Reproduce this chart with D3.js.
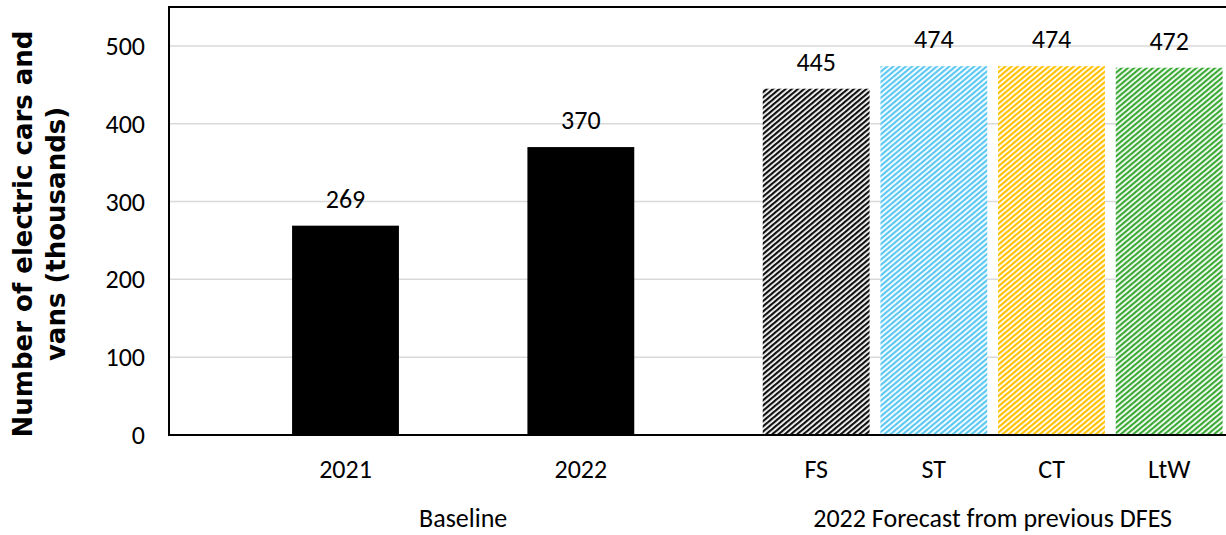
<!DOCTYPE html>
<html>
<head>
<meta charset="utf-8">
<script src="https://cdn.jsdelivr.net/npm/d3@7"></script>
<style>
  html, body { margin: 0; padding: 0; background: #fff; }
  svg { display: block; }
  text { font-family: Carlito, Lato, "Open Sans", sans-serif; fill: #000; }
</style>
</head>
<body>
<svg id="chart" width="1226" height="535"></svg>
<script>
// -------- DATA --------
// slots: blank spacer slots keep the Excel-style spacing between bars
const slots = ["_a", "2021", "_b", "2022", "_c", "FS", "ST", "CT", "LtW"];
const categories = ["2021", "2022", "FS", "ST", "CT", "LtW"];
const values = [269, 370, 445, 474, 474, 472];
const groups = [
  { label: "Baseline", members: ["2021", "2022"] },
  { label: "2022 Forecast from previous DFES", members: ["FS", "ST", "CT", "LtW"] }
];
const yTicks = [0, 100, 200, 300, 400, 500];
const yTitle = ["Number of electric cars and", "vans (thousands)"];

// -------- STYLE --------
const barStyle = {
  "2021": { solid: "#000000" },
  "2022": { solid: "#000000" },
  "FS":  { hatch: "#111111" },
  "ST":  { hatch: "#5cc8f2" },
  "CT":  { hatch: "#ffc000" },
  "LtW": { hatch: "#3aaa35" }
};
const fontSize = 26;

const svg = d3.select("#chart");
const margin = { left: 169, top: 7, right: -2 };
const W = 1226;
const plotBottom = 435;

const x = d3.scaleBand()
  .domain(slots)
  .range([margin.left, W - margin.right])
  .paddingInner(0.092)
  .paddingOuter(0.046);

const y = d3.scaleLinear()
  .domain([0, 550])
  .range([plotBottom, margin.top]);

// -------- PATTERNS --------
const defs = svg.append("defs");
categories.forEach(c => {
  const st = barStyle[c];
  if (!st.hatch) return;
  const p = defs.append("pattern")
    .attr("id", "hatch-" + c)
    .attr("patternUnits", "userSpaceOnUse")
    .attr("width", 4)
    .attr("height", 4)
    .attr("patternTransform", "rotate(50)");
  p.append("rect").attr("width", 4).attr("height", 4).attr("fill", "#fff");
  p.append("rect").attr("width", 2.2).attr("height", 4).attr("fill", st.hatch);
});

// -------- GRID --------
svg.append("g")
  .selectAll("line")
  .data(yTicks.filter(d => d > 0))
  .enter()
  .append("line")
  .attr("x1", margin.left)
  .attr("x2", W)
  .attr("y1", d => y(d))
  .attr("y2", d => y(d))
  .attr("stroke", "#d9d9d9")
  .attr("stroke-width", 1.5);

// -------- BARS --------
const data = categories.map((c, i) => ({ cat: c, val: values[i] }));

svg.append("g")
  .selectAll("rect")
  .data(data)
  .enter()
  .append("rect")
  .attr("x", d => x(d.cat))
  .attr("y", d => y(d.val))
  .attr("width", x.bandwidth())
  .attr("height", d => y(0) - y(d.val))
  .attr("fill", d => barStyle[d.cat].solid || `url(#hatch-${d.cat})`);

// value labels
svg.append("g")
  .selectAll("text")
  .data(data)
  .enter()
  .append("text")
  .attr("x", d => x(d.cat) + x.bandwidth() / 2)
  .attr("y", d => y(d.val) - 18)
  .attr("text-anchor", "middle")
  .attr("font-size", fontSize)
  .text(d => d.val);

// -------- FRAME / AXES --------
svg.append("rect")
  .attr("x", margin.left)
  .attr("y", margin.top)
  .attr("width", W + 10 - margin.left)
  .attr("height", plotBottom - margin.top)
  .attr("fill", "none")
  .attr("stroke", "#000")
  .attr("stroke-width", 2);

// y tick labels
svg.append("g")
  .selectAll("text")
  .data(yTicks)
  .enter()
  .append("text")
  .attr("x", margin.left - 24)
  .attr("y", d => y(d))
  .attr("dy", "0.35em")
  .attr("text-anchor", "end")
  .attr("font-size", fontSize)
  .text(d => d);

// x category labels
svg.append("g")
  .selectAll("text")
  .data(categories)
  .enter()
  .append("text")
  .attr("x", d => x(d) + x.bandwidth() / 2)
  .attr("y", 478)
  .attr("text-anchor", "middle")
  .attr("font-size", fontSize)
  .text(d => d);

// group labels
svg.append("g")
  .selectAll("text")
  .data(groups)
  .enter()
  .append("text")
  .attr("x", g => {
    const first = g.members[0], last = g.members[g.members.length - 1];
    return (x(first) + x(last) + x.bandwidth()) / 2;
  })
  .attr("y", 527)
  .attr("text-anchor", "middle")
  .attr("font-size", fontSize)
  .text(g => g.label);

// y axis title
const titleCy = 234;
svg.append("g")
  .selectAll("text")
  .data(yTitle)
  .enter()
  .append("text")
  .attr("transform", (d, i) => `translate(${32 + i * 33},${titleCy}) rotate(-90)`)
  .attr("text-anchor", "middle")
  .style("font-family", "'DejaVu Sans', Verdana, sans-serif")
  .attr("font-weight", "bold")
  .attr("font-size", 26)
  .text(d => d);
</script>
</body>
</html>
